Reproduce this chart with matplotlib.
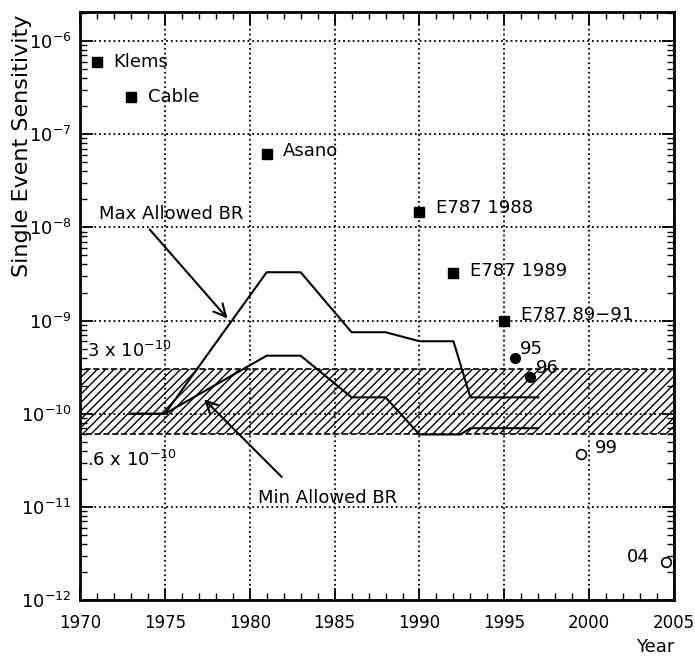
import numpy as np
import matplotlib.pyplot as plt
from matplotlib.ticker import LogLocator, MultipleLocator, NullFormatter

# measurements (year, single event sensitivity)
sq_years = [1971, 1973, 1981, 1990, 1992, 1995]
sq_vals = [6.0e-7, 2.5e-7, 6.2e-8, 1.45e-8, 3.2e-9, 1.0e-9]
sq_labels = ["Klems", "Cable", "Asano", "E787 1988", "E787 1989", "E787 89\u221291"]

dot_years = [1995.6, 1996.5]
dot_vals = [4.0e-10, 2.5e-10]
dot_labels = ["95", "96"]

open_years = [1999.5, 2004.5]
open_vals = [3.7e-11, 2.6e-12]
open_labels = ["99", "04"]

# allowed branching ratio curves
max_years = [1973, 1975, 1981, 1983, 1986, 1988, 1990, 1992, 1993, 1997]
max_vals = [1e-10, 1e-10, 3.3e-9, 3.3e-9, 7.5e-10, 7.5e-10, 6e-10, 6e-10, 1.5e-10, 1.5e-10]
min_years = [1973, 1975, 1981, 1983, 1986, 1988, 1990, 1992.4, 1993, 1997]
min_vals = [1e-10, 1e-10, 4.2e-10, 4.2e-10, 1.5e-10, 1.5e-10, 6e-11, 6e-11, 7e-11, 7e-11]

band_lo = 0.6e-10
band_hi = 3e-10

plt.rcParams['font.family'] = ['DejaVu Sans']
plt.rcParams['hatch.linewidth'] = 1.0

fig = plt.figure(figsize=(6.95, 6.61), dpi=100)
ax = fig.add_axes([0.115, 0.092, 0.855, 0.89])

ax.set_yscale('log')
ax.set_xlim(1970, 2005)
ax.set_ylim(1e-12, 2.05e-6)

# hatched band
ax.fill_between([1970, 2005], band_lo, band_hi, facecolor='none', edgecolor='black',
                hatch='////', linewidth=1.2, linestyle='--', zorder=1)

ax.plot(max_years, max_vals, color='black', lw=1.5, zorder=3)
ax.plot(min_years, min_vals, color='black', lw=1.5, zorder=3)

ax.plot(sq_years, sq_vals, 's', color='black', ms=7, zorder=4)
ax.plot(dot_years, dot_vals, 'o', color='black', ms=7, zorder=4)
ax.plot(open_years, open_vals, 'o', mfc='white', mec='black', mew=1.2, ms=7, zorder=4)

fs = 13
offs = [(12, 0), (12, 0), (12, 2), (12, 3), (12, 2), (12, 4)]
for x, y, s, o in zip(sq_years, sq_vals, sq_labels, offs):
    ax.annotate(s, (x, y), xytext=o, textcoords='offset points', fontsize=fs, va='center')
ax.annotate(dot_labels[0], (dot_years[0], dot_vals[0]), xytext=(4, 6), textcoords='offset points',
            fontsize=fs, va='center')
ax.annotate(dot_labels[1], (dot_years[1], dot_vals[1]), xytext=(4, 6), textcoords='offset points',
            fontsize=fs, va='center')
ax.annotate(open_labels[0], (open_years[0], open_vals[0]), xytext=(10, 4), textcoords='offset points',
            fontsize=fs, va='center')
ax.annotate(open_labels[1], (open_years[1], open_vals[1]), xytext=(-28, 3), textcoords='offset points',
            fontsize=fs, va='center')

ax.text(1970.4, 4.7e-10, r"3 x 10$^{-10}$", fontsize=fs, va='center')
ax.text(1970.4, 3.2e-11, r".6 x 10$^{-10}$", fontsize=fs, va='center')

ax.text(1971.1, 1.4e-8, "Max Allowed BR", fontsize=fs, va='center')
ax.annotate("", xy=(1978.8, 1e-9), xytext=(1974, 1e-8),
            arrowprops=dict(arrowstyle='->', lw=1.5, color='black', mutation_scale=22))
ax.text(1980.5, 1.25e-11, "Min Allowed BR", fontsize=fs, va='center')
ax.annotate("", xy=(1977.2, 1.5e-10), xytext=(1982, 2.0e-11),
            arrowprops=dict(arrowstyle='->', lw=1.5, color='black', mutation_scale=22))

# axes styling
ax.xaxis.set_major_locator(MultipleLocator(5))
ax.xaxis.set_minor_locator(MultipleLocator(1))
ax.yaxis.set_major_locator(LogLocator(base=10, numticks=20))
ax.yaxis.set_minor_locator(LogLocator(base=10, subs=np.arange(2, 10), numticks=20))
ax.yaxis.set_minor_formatter(NullFormatter())
ax.tick_params(which='both', direction='in', top=True, right=True)
ax.tick_params(axis='y', which='major', labelsize=13, pad=6)
ax.tick_params(axis='x', which='major', labelsize=12, pad=10)
ax.tick_params(which='major', length=9, width=1.3)
ax.tick_params(which='minor', length=5, width=1.0)
ax.grid(True, which='major', linestyle=':', color='black', lw=1.3)
for sp in ax.spines.values():
    sp.set_linewidth(2)

ax.set_ylabel("Single Event Sensitivity", fontsize=16, loc='top')
ax.yaxis.set_label_coords(-0.081, 0.995)
ax.set_xlabel("Year", fontsize=13, loc='right', labelpad=4)

fig.savefig("out.png", dpi=100)
